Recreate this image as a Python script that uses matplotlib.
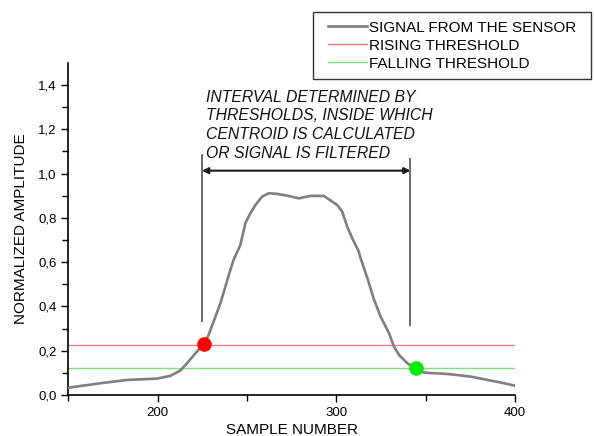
import matplotlib
matplotlib.use("Agg")
import matplotlib.pyplot as plt
from matplotlib.patches import Rectangle
import numpy as np

plt.rcParams['font.family'] = ['Liberation Sans', 'DejaVu Sans']

# Signal samples
sample = [150, 167.8, 182.7, 199.6, 207, 212.6, 216.4, 221.1, 225.7, 228.5, 231.3,
          235.1, 237.9, 240.7, 242.5, 246.3, 249.1, 251.9, 254.7, 258.5, 262.2,
          266.9, 272.5, 279, 285.6, 293, 296.8, 300.5, 303.3, 306.1, 308.9, 312.6,
          313.6, 317.5, 321.1, 324.8, 329.5, 332.3, 335.1, 339.8, 344.5, 349.1,
          362.2, 375.3, 384.7, 394, 400]
amplitude = [0.033, 0.053, 0.068, 0.074, 0.086, 0.110, 0.143, 0.188, 0.229, 0.271,
             0.331, 0.414, 0.489, 0.565, 0.610, 0.678, 0.776, 0.821, 0.858, 0.896,
             0.911, 0.908, 0.900, 0.888, 0.899, 0.899, 0.878, 0.858, 0.828, 0.760,
             0.708, 0.647, 0.617, 0.525, 0.430, 0.354, 0.279, 0.218, 0.181, 0.143,
             0.120, 0.101, 0.095, 0.083, 0.068, 0.053, 0.042]

rising_threshold = 0.225
falling_threshold = 0.12
rising_point = (225.7, 0.229)
falling_point = (344.5, 0.12)
interval_lines = [(224.8, 0.334, 1.084), (341.5, 0.316, 1.066)]
arrow_y = 1.013

legend_labels = ["SIGNAL FROM THE SENSOR", "RISING THRESHOLD", "FALLING THRESHOLD"]
annotation = "INTERVAL DETERMINED BY\nTHRESHOLDS, INSIDE WHICH\nCENTROID IS CALCULATED\nOR SIGNAL IS FILTERED"
x_ticks = [200, 300, 400]
y_ticks = [0.0, 0.2, 0.4, 0.6, 0.8, 1.0, 1.2, 1.4]
y_ticklabels = ["0,0", "0,2", "0,4", "0,6", "0,8", "1,0", "1,2", "1,4"]

W, H = 594, 436
fig = plt.figure(figsize=(W / 100, H / 100), dpi=100)
ax = fig.add_axes([0.115, 0.094, 0.752, 0.762])

l1, = ax.plot(sample, amplitude, color='#7f7f7f', lw=1.9, zorder=3,
              solid_joinstyle='round')
l2 = ax.axhline(rising_threshold, color='#f47c7c', lw=1.0, zorder=2)
l3 = ax.axhline(falling_threshold, color='#7ee07e', lw=1.0, zorder=2)

ax.plot(*rising_point, 'o', color='#ff0000', ms=10.5, mec='none', zorder=5)
ax.plot(*falling_point, 'o', color='#00ee00', ms=10.5, mec='none', zorder=5)

for x, y0, y1 in interval_lines:
    ax.plot([x, x], [y0, y1], color='#6a6a6a', lw=1.4, zorder=4)

ax.annotate('', xy=(interval_lines[1][0], arrow_y), xytext=(interval_lines[0][0], arrow_y),
            arrowprops=dict(arrowstyle='<|-|>', color='#1a1a1a', lw=1.5,
                            mutation_scale=9, shrinkA=0, shrinkB=0))

ax.text(227.2, 1.378, annotation, fontsize=11.3, style='italic', va='top', ha='left',
        linespacing=1.3, color='#111111')

ax.set_xlim(150, 400)
ax.set_ylim(0, 1.5)
ax.set_xticks(x_ticks)
ax.set_xticks([150, 250, 350], minor=True)
ax.set_yticks(y_ticks)
ax.set_yticklabels(y_ticklabels)
ax.set_yticks(np.arange(0.1, 1.5, 0.2), minor=True)
ax.tick_params(which='both', direction='out', width=1.0, labelsize=9.5, colors='black')
ax.tick_params(which='major', length=5)
ax.tick_params(which='minor', length=4)
for s in ['top', 'right']:
    ax.spines[s].set_visible(False)
for s in ['left', 'bottom']:
    ax.spines[s].set_linewidth(1.2)

ax.set_xlabel("SAMPLE NUMBER", fontsize=11, labelpad=3)
ax.set_ylabel("NORMALIZED AMPLITUDE", fontsize=11, labelpad=7)

# legend frame
fig.patches.append(Rectangle((313 / W, 1 - 79 / H), (591 - 313) / W, (79 - 12) / H,
                             transform=fig.transFigure, fill=False,
                             edgecolor='#333333', lw=1.0))
leg = fig.legend([l1, l2, l3], legend_labels, loc='upper left',
                 bbox_to_anchor=(328 / W, 1 - 20.5 / H), borderaxespad=0,
                 fontsize=11, handlelength=2.55, handletextpad=0.13,
                 labelspacing=0.27, borderpad=0.0, frameon=False)

fig.savefig("out.png", dpi=100)
